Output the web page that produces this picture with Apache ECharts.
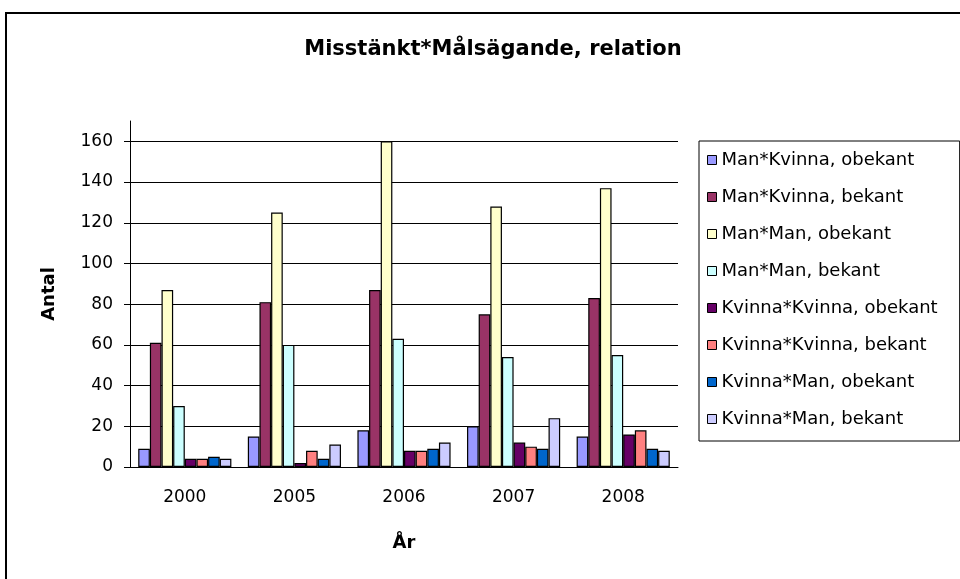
<!DOCTYPE html>
<html lang="sv" style="height: 100%">
<head>
    <meta charset="utf-8">
    <title>Misstänkt*Målsägande, relation</title>
    <script src="https://cdn.jsdelivr.net/npm/echarts@6/dist/echarts.min.js"></script>
    <style>
        body { margin: 0; background: #fff; }
        #main { width: 960px; height: 579px; }
    </style>
</head>
<body>
    <div id="main"></div>

    <script>
        // kategorier (år)
        var years = ['2000', '2005', '2006', '2007', '2008'];

        // serier
        var manKvinnaObekant = [9, 15, 18, 20, 15];
        var manKvinnaBekant = [61, 81, 87, 75, 83];
        var manManObekant = [87, 125, 160, 128, 137];
        var manManBekant = [30, 60, 63, 54, 55];
        var kvinnaKvinnaObekant = [4, 2, 8, 12, 16];
        var kvinnaKvinnaBekant = [4, 8, 8, 10, 18];
        var kvinnaManObekant = [5, 4, 9, 9, 9];
        var kvinnaManBekant = [4, 11, 12, 24, 8];

        var seriesNames = [
            'Man*Kvinna, obekant',
            'Man*Kvinna, bekant',
            'Man*Man, obekant',
            'Man*Man, bekant',
            'Kvinna*Kvinna, obekant',
            'Kvinna*Kvinna, bekant',
            'Kvinna*Man, obekant',
            'Kvinna*Man, bekant'
        ];
        var seriesData = [
            manKvinnaObekant, manKvinnaBekant, manManObekant, manManBekant,
            kvinnaKvinnaObekant, kvinnaKvinnaBekant, kvinnaManObekant, kvinnaManBekant
        ];
        // Excel 2003 standardfärger
        var colors = ['#9999FF', '#993366', '#FFFFCC', '#CCFFFF', '#660066', '#FF8080', '#0066CC', '#CCCCFF'];

        var yTicks = [0, 20, 40, 60, 80, 100, 120, 140, 160];

        var chart = echarts.init(document.getElementById('main'));
        var font = 'DejaVu Sans, sans-serif';

        var series = seriesNames.map(function (name, i) {
            return {
                name: name,
                type: 'bar',
                data: seriesData[i],
                barGap: '0%',
                barCategoryGap: '15%',
                itemStyle: { color: colors[i], borderColor: '#000', borderWidth: 1.2 }
            };
        });

        chart.setOption({
            animation: false,
            textStyle: { fontFamily: font, color: '#000' },
            title: {
                text: 'Misstänkt*Målsägande, relation',
                left: 488,
                textAlign: 'center',
                top: 34,
                textStyle: { fontSize: 21, fontWeight: 'bold', color: '#000', fontFamily: font }
            },
            graphic: [{
                type: 'rect',
                shape: { x: 6, y: 13, width: 1000, height: 600 },
                style: { fill: 'none', stroke: '#000', lineWidth: 2 }
            }],
            legend: {
                orient: 'vertical',
                left: 699,
                top: 141,
                padding: [9, 22, 12, 8],
                itemGap: 17,
                itemWidth: 9,
                itemHeight: 9,
                icon: 'rect',
                borderColor: '#000',
                borderWidth: 1,
                itemStyle: { borderColor: '#000', borderWidth: 1 },
                textStyle: { fontSize: 18, lineHeight: 20, color: '#000', fontFamily: font },
                data: seriesNames
            },
            grid: { left: 130, right: 282, top: 121, bottom: 112 },
            xAxis: {
                type: 'category',
                data: years,
                name: 'År',
                nameLocation: 'middle',
                nameGap: 67,
                nameTextStyle: { fontSize: 18, fontWeight: 'bold', color: '#000' },
                axisLine: { lineStyle: { color: '#000', width: 1 } },
                axisTick: { length: 6, lineStyle: { color: '#000' } },
                axisLabel: { fontSize: 17, color: '#000', margin: 22 }
            },
            yAxis: {
                type: 'value',
                min: 0,
                max: 170,
                interval: 20,
                name: 'Antal',
                nameLocation: 'middle',
                nameGap: 72,
                nameRotate: 90,
                nameTextStyle: { fontSize: 18, fontWeight: 'bold', color: '#000' },
                axisLine: { show: true, lineStyle: { color: '#000', width: 1 } },
                axisTick: { show: true, length: 6, lineStyle: { color: '#000' }, customValues: yTicks },
                axisLabel: { fontSize: 17, color: '#000', margin: 17, customValues: yTicks },
                splitLine: { show: true, lineStyle: { color: '#000', width: 1 } }
            },
            series: series
        });
    </script>
</body>
</html>
